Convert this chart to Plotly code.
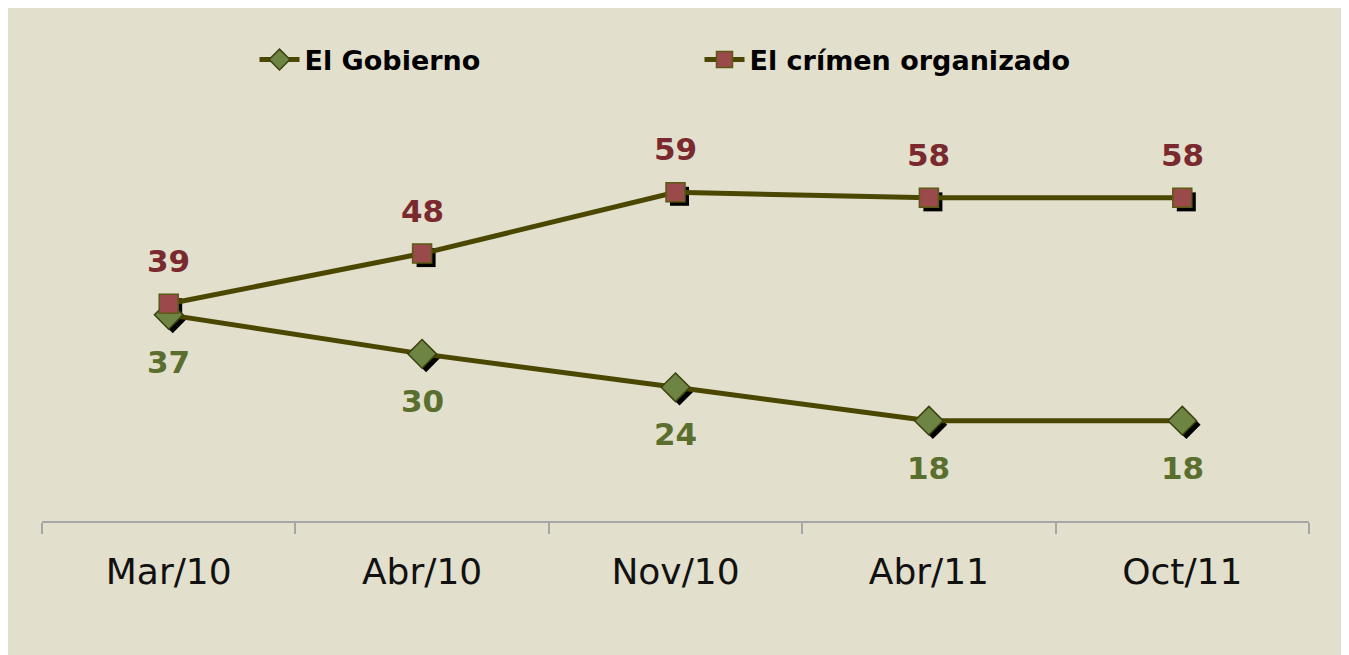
import plotly.graph_objects as go

categories = ["Mar/10", "Abr/10", "Nov/10", "Abr/11", "Oct/11"]
gobierno = [37, 30, 24, 18, 18]
crimen = [39, 48, 59, 58, 58]
series_names = ["El Gobierno", "El crímen organizado"]

BG = "#E2DFCC"
LINE = "#4B4700"
FONT = "DejaVu Sans, Century Gothic, sans-serif"

W, H = 1341, 647
L, R, T, B = 34, 36, 123, 130
PW, PH = W - L - R, H - T - B
SH = 4  # shadow offset in px
dx, dy = SH / PW, SH / PH

fig = go.Figure()
# shadows (drawn below, on offset axes)
fig.add_trace(go.Scatter(x=categories, y=gobierno, mode="markers", showlegend=False, hoverinfo="skip",
                         marker=dict(symbol="diamond", size=22, color="#000000"), xaxis="x", yaxis="y"))
fig.add_trace(go.Scatter(x=categories, y=crimen, mode="markers", showlegend=False, hoverinfo="skip",
                         marker=dict(symbol="square", size=19, color="#000000"), xaxis="x", yaxis="y"))
# main series
fig.add_trace(go.Scatter(
    x=categories, y=gobierno, name=series_names[0], mode="lines+markers",
    line=dict(color=LINE, width=5),
    marker=dict(symbol="diamond", size=22, color="#6E8442",
                line=dict(color="#3A4210", width=1.5)),
    xaxis="x2", yaxis="y2",
))
fig.add_trace(go.Scatter(
    x=categories, y=crimen, name=series_names[1], mode="lines+markers",
    line=dict(color=LINE, width=5),
    marker=dict(symbol="square", size=19, color="#9A4A4A",
                line=dict(color="#5A5A12", width=1.5)),
    xaxis="x2", yaxis="y2",
))

annotations = []
for c, v in zip(categories, crimen):
    annotations.append(dict(x=c, y=v, xref="x2", yref="y2", text=str(v), showarrow=False, yshift=43,
                            font=dict(family=FONT, size=31, color="#7A2A2E", weight="bold")))
for c, v in zip(categories, gobierno):
    annotations.append(dict(x=c, y=v, xref="x2", yref="y2", text=str(v), showarrow=False, yshift=-47,
                            font=dict(family=FONT, size=31, color="#5A6E2E", weight="bold")))

fig.update_layout(
    width=W, height=H,
    paper_bgcolor=BG, plot_bgcolor="rgba(0,0,0,0)",
    margin=dict(l=L, r=R, t=T, b=B),
    font=dict(family=FONT),
    showlegend=True,
    legend=dict(orientation="h", x=0.5 + 22 / PW, xanchor="center", y=1 + (T - 52) / PH, yanchor="middle",
                font=dict(family=FONT, size=27, color="#000000", weight="bold"),
                bgcolor="rgba(0,0,0,0)", entrywidth=390, itemwidth=40),
    annotations=annotations,
    xaxis=dict(domain=[dx, 1], type="category", range=[-0.5, 4.5], visible=False, anchor="y"),
    yaxis=dict(domain=[0, 1 - dy], range=[0, 70], visible=False, anchor="x"),
    xaxis2=dict(domain=[0, 1 - dx], type="category", range=[-0.5, 4.5], anchor="y2",
                showgrid=False, zeroline=False,
                showline=True, linecolor="#A6A6A6", linewidth=1.5,
                ticks="outside", tickson="boundaries", ticklen=11, tickcolor="#A6A6A6", tickwidth=1.5,
                tickfont=dict(family=FONT, size=36, color="#111111"),
                ticklabelstandoff=18),
    yaxis2=dict(domain=[dy, 1], range=[0, 70], anchor="x2", showgrid=False, zeroline=False,
                showticklabels=False, showline=False),
)

fig.write_html("out.html")
